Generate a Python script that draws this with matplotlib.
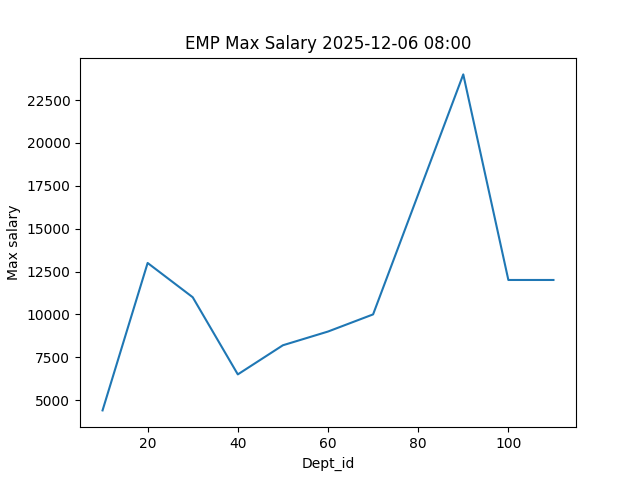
import matplotlib
matplotlib.use("Agg")
import matplotlib.pyplot as plt

# department ids and max salary per department
dept_ids = [10, 20, 30, 40, 50, 60, 70, 80, 90, 100, 110]
max_salary = [4400, 13000, 11000, 6500, 8200, 9000, 10000, 17000, 24000, 12008, 12008]


def main():
    fig, ax = plt.subplots(figsize=(6.4, 4.8), dpi=100)
    ax.plot(dept_ids, max_salary)
    ax.set_xlabel('Dept_id')
    ax.set_ylabel('Max salary')
    ax.set_title('EMP Max Salary 2025-12-06 08:00')
    fig.savefig('out.png')


if __name__ == "__main__":
    main()
